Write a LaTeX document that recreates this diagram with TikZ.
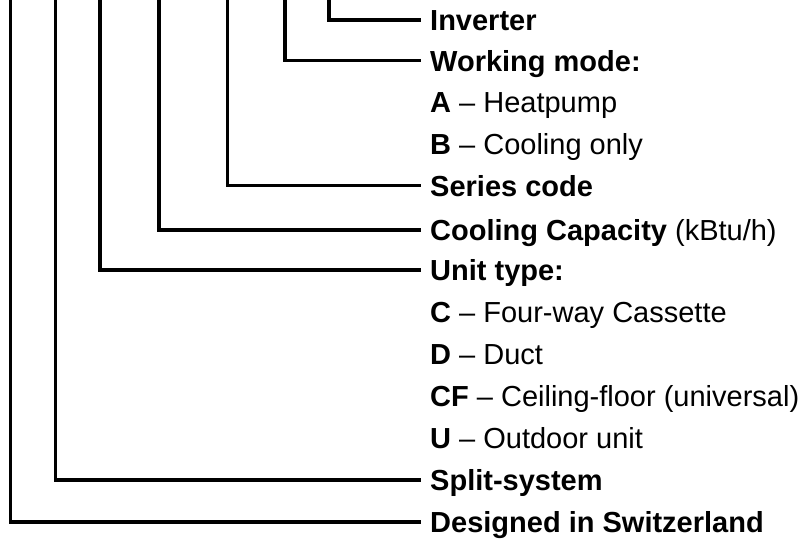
\documentclass[tikz,border=0pt]{standalone}
\usepackage{fontspec}
\setmainfont{Liberation Sans}
\begin{document}
\begin{tikzpicture}[x=1pt,y=-1pt,
  lab/.style={anchor=west,inner sep=0pt,text height=20.8pt,text depth=0pt,font=\fontsize{29}{35}\selectfont},
  conn/.style={line width=3.4pt,line join=miter,line cap=butt}]
\useasboundingbox (0,0) rectangle (806,543);
% labels
\node[lab] (inv) at (430,20) {\textbf{Inverter}};
\node[lab] (wm)  at (430,60.7) {\textbf{Working mode:}};
\node[lab] (wa)  at (430,102.4) {\textbf{A} -- Heatpump};
\node[lab] (wb)  at (430,144) {\textbf{B} -- Cooling only};
\node[lab] (sc)  at (430,185.7) {\textbf{Series code}};
\node[lab] (cc)  at (430,230) {\textbf{Cooling Capacity} (kBtu/h)};
\node[lab] (ut)  at (430,270) {\textbf{Unit type:}};
\node[lab] (uc)  at (430,312) {\textbf{C} -- Four-way Cassette};
\node[lab] (ud)  at (430,354) {\textbf{D} -- Duct};
\node[lab] (ucf) at (430,396) {\textbf{CF} -- Ceiling-floor (universal)};
\node[lab] (uu)  at (430,438) {\textbf{U} -- Outdoor unit};
\node[lab] (ss)  at (430,480) {\textbf{Split-system}};
\node[lab] (dis) at (430,522) {\textbf{Designed in Switzerland}};
% tops of the vertical lines
\coordinate (t1) at (329,-5);
\coordinate (t2) at (285,-5);
\coordinate (t3) at (227.3,-5);
\coordinate (t4) at (159,-5);
\coordinate (t5) at (100,-5);
\coordinate (t6) at (55.3,-5);
\coordinate (t7) at (10.7,-5);
% connectors
\draw[conn] (t1) |- ([xshift=-9.5pt]inv.west);
\draw[conn] (t2) |- ([xshift=-9.5pt]wm.west);
\draw[conn] (t3) |- ([xshift=-9.5pt]sc.west);
\draw[conn] (t4) |- ([xshift=-9.5pt]cc.west);
\draw[conn] (t5) |- ([xshift=-9.5pt]ut.west);
\draw[conn] (t6) |- ([xshift=-9.5pt]ss.west);
\draw[conn] (t7) |- ([xshift=-9.5pt]dis.west);
\end{tikzpicture}
\end{document}
